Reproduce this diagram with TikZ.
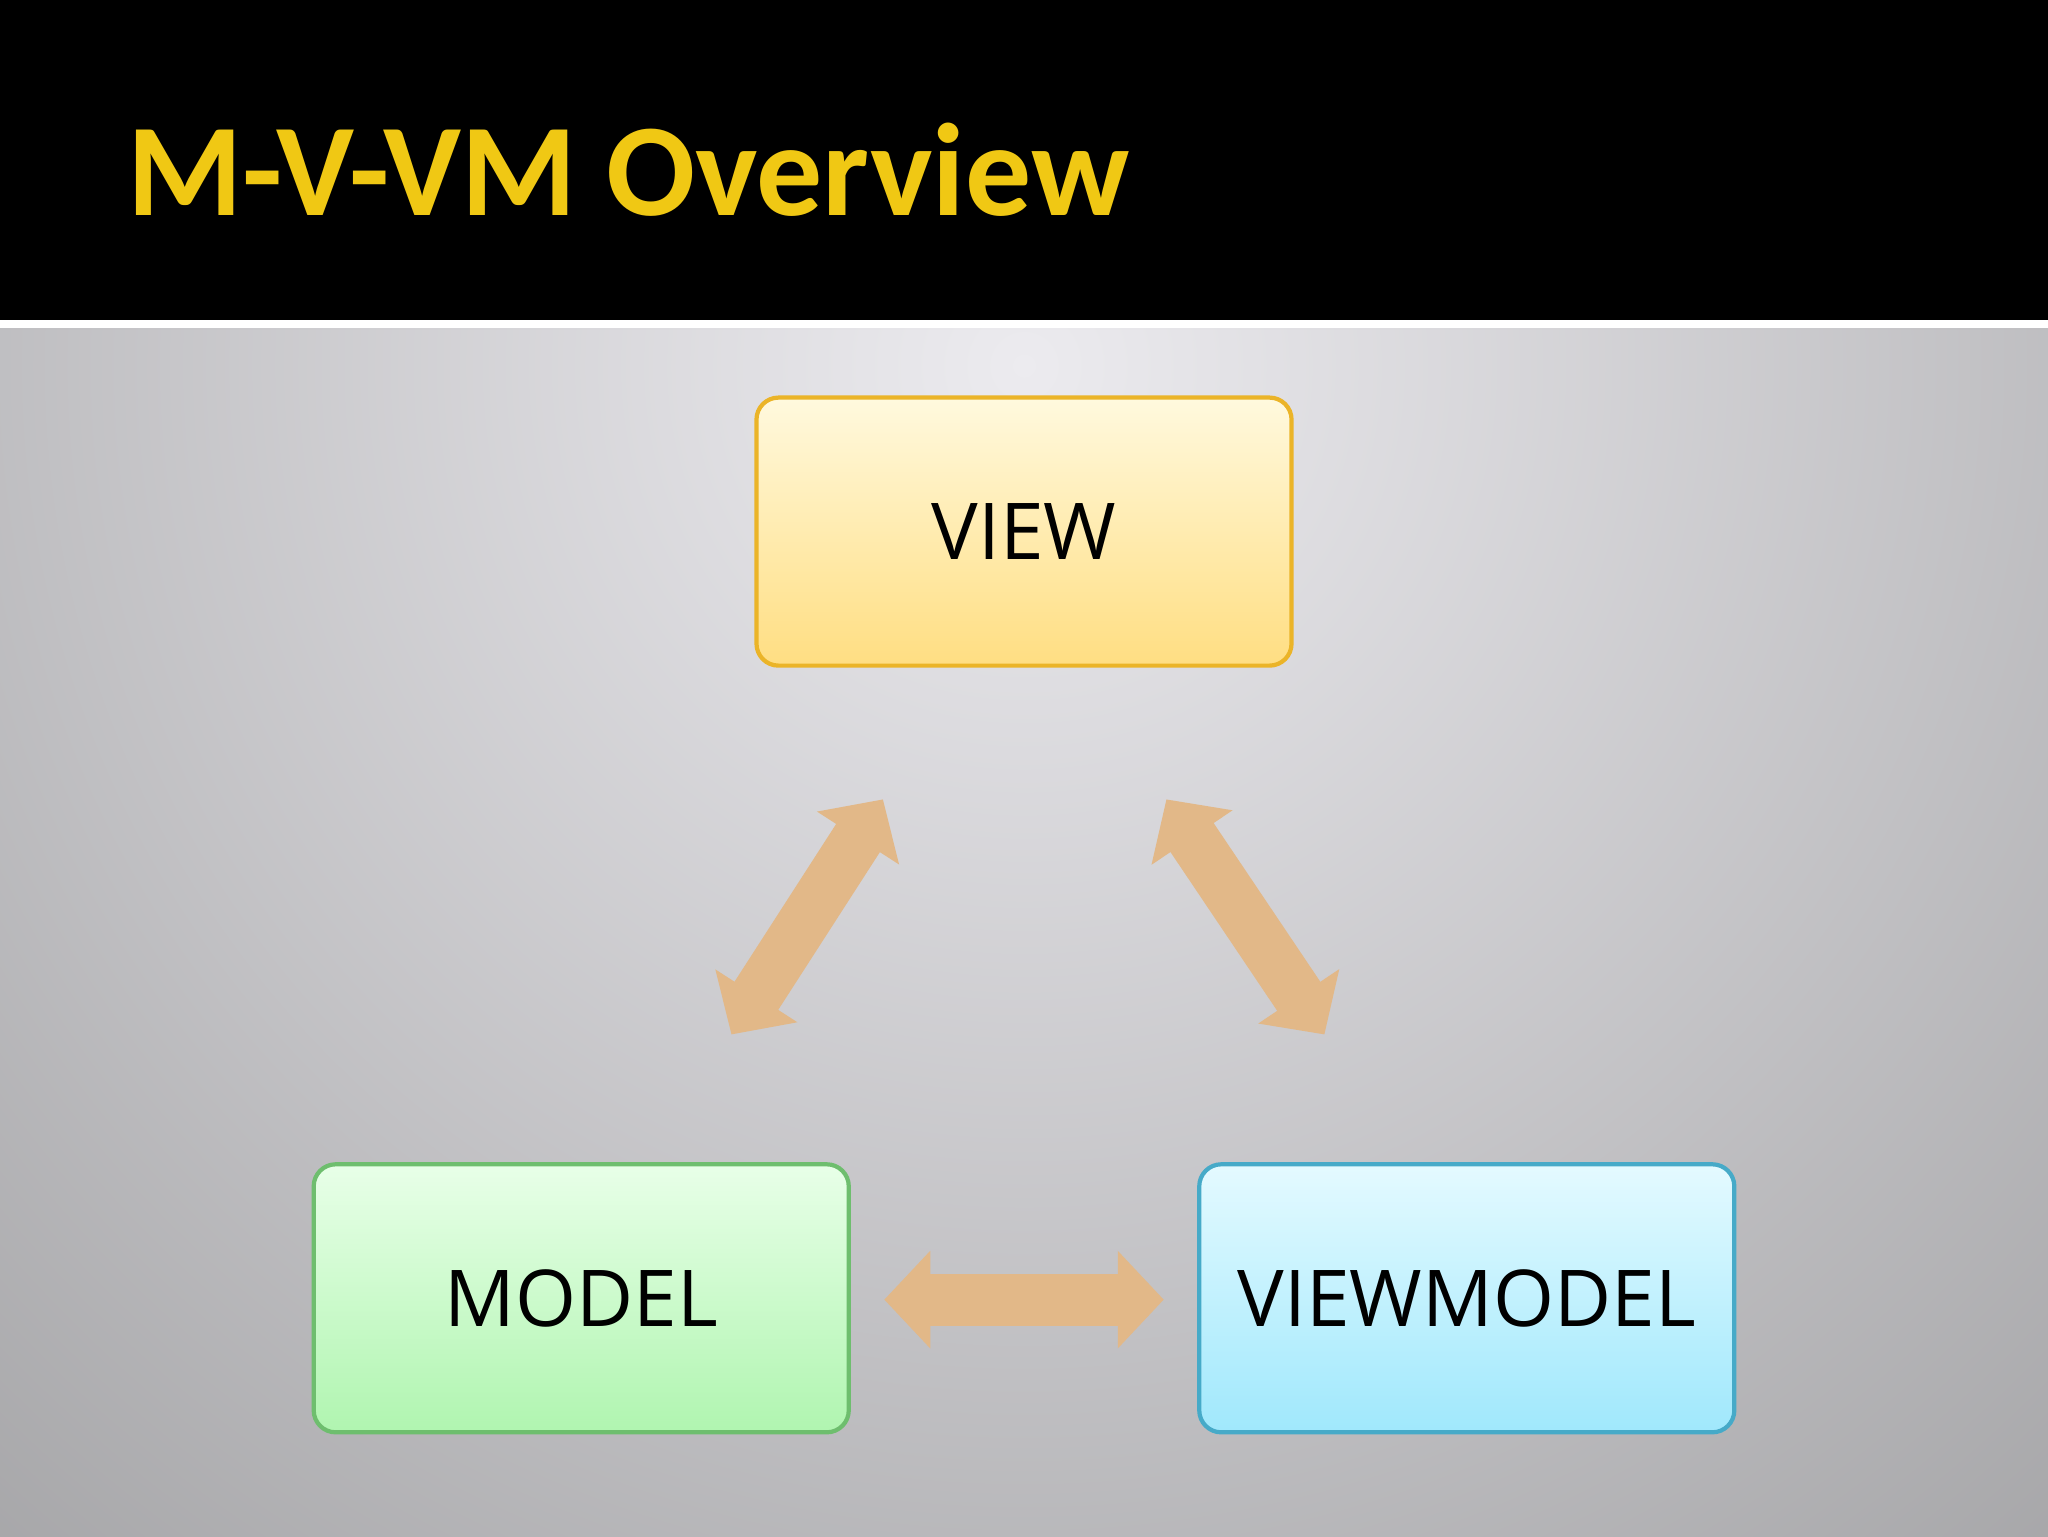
\documentclass[tikz,border=0pt]{standalone}
\usepackage{fontspec}
\setmainfont{Open Sans}
\newfontfamily\titlefont{Carlito}
\usetikzlibrary{arrows.meta}
\definecolor{titleyellow}{RGB}{240,200,20}
\definecolor{arrowtan}{RGB}{226,184,136}
\tikzset{
  box/.style={draw, line width=1.2pt, rounded corners=2.2mm, minimum width=53.5mm, minimum height=26.8mm, font=\fontsize{22.3}{26}\selectfont, text=black},
  dblarrow/.style={line width=5.2mm, draw=arrowtan, {Triangle[length=4.6mm,width=9.5mm]}-{Triangle[length=4.6mm,width=9.5mm]}},
}
\begin{document}
\begin{tikzpicture}[x=0.1306mm,y=-0.1306mm]
\useasboundingbox (0,0) rectangle (1568,1176);
\begin{scope}
\clip (0,250) rectangle (1568,1176);
\fill[gray!55] (0,250) rectangle (1568,1176);
\shade[inner color={rgb,255:red,236;green,235;blue,239}, outer color={rgb,255:red,150;green,150;blue,152}] (784,280) circle [radius=1500];
\end{scope}
\fill[black] (0,0) rectangle (1568,245);
\fill[white] (0,245) rectangle (1568,251);
\node[anchor=base west, inner sep=0, text=titleyellow, font=\titlefont\bfseries\fontsize{37.5}{42}\selectfont] (title) at (97,165) {M-V-VM Overview};
\node[box, draw={rgb,255:red,235;green,180;blue,40}, top color={rgb,255:red,255;green,249;blue,222}, bottom color={rgb,255:red,255;green,222;blue,130}] (view) at (784,407) {VIEW};
\node[box, draw={rgb,255:red,110;green,190;blue,110}, top color={rgb,255:red,232;green,255;blue,232}, bottom color={rgb,255:red,176;green,245;blue,176}] (model) at (445,994) {MODEL};
\node[box, draw={rgb,255:red,70;green,170;blue,200}, top color={rgb,255:red,228;green,250;blue,255}, bottom color={rgb,255:red,160;green,232;blue,252}] (vm) at (1123,994) {VIEWMODEL};
\coordinate (l1) at (560,792);
\coordinate (l2) at (676,612);
\coordinate (r1) at (893,612);
\coordinate (r2) at (1014,792);
\coordinate (h1) at (677,995);
\coordinate (h2) at (891,995);
\draw[dblarrow] (l1) -- (l2);
\draw[dblarrow] (r1) -- (r2);
\draw[dblarrow] (h1) -- (h2);
\end{tikzpicture}
\end{document}
